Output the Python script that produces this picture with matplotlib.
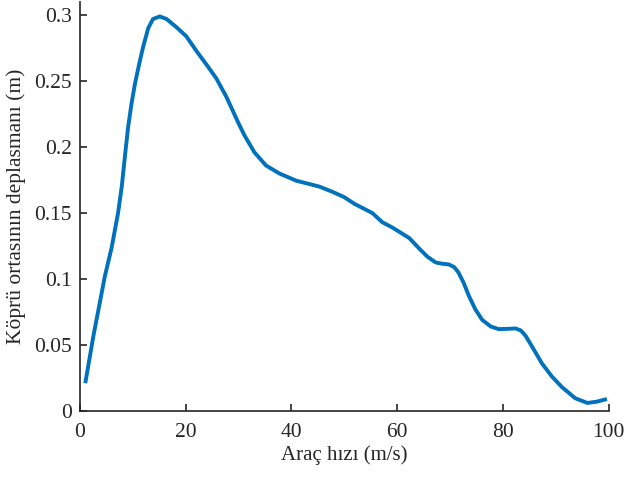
import matplotlib
matplotlib.use("Agg")
import matplotlib.pyplot as plt
import numpy as np

plt.rcParams['font.family'] = ['Liberation Serif', 'DejaVu Serif']

# hız (m/s) ve köprü ortası deplasmanı (m)
hiz = [1, 2.5, 4.7, 6.0, 7.2, 7.9, 8.5, 9.1, 9.75, 10.4, 11.2, 11.95, 12.9,
       13.8, 15.1, 16.4, 18.2, 20.1, 22.0, 24.2, 25.8, 27.7, 30, 31.1, 33,
       35.2, 37.7, 40.9, 45.3, 47.8, 50, 51.9, 55.3, 57.2, 59.1, 62.3, 64.2,
       65.7, 67.3, 68.6, 69.8, 70.8, 71.6, 72.6, 73.6, 74.8, 76.1, 77.7,
       79.2, 81.0, 82.4, 83.4, 84.3, 85.5, 87.4, 89.3, 91.2, 93.7, 96, 97.8,
       99.7]
deplasman = [0.021, 0.056, 0.102, 0.124, 0.150, 0.170, 0.193, 0.215, 0.233,
             0.248, 0.263, 0.276, 0.290, 0.297, 0.299, 0.297, 0.291, 0.284,
             0.273, 0.261, 0.252, 0.238, 0.218, 0.209, 0.196, 0.186, 0.180,
             0.1745, 0.170, 0.166, 0.162, 0.157, 0.150, 0.143, 0.139, 0.131,
             0.123, 0.117, 0.1125, 0.1115, 0.111, 0.109, 0.105, 0.097, 0.087,
             0.077, 0.069, 0.064, 0.062, 0.0622, 0.0625, 0.061, 0.057, 0.049,
             0.036, 0.026, 0.018, 0.0096, 0.006, 0.007, 0.009]

fig = plt.figure(figsize=(6.25, 4.8), dpi=100)
ax = fig.add_axes([0.128, 0.144, 0.8456, 0.852])

ax.plot(hiz, deplasman, color="#0072BD", linewidth=2.8,
        solid_capstyle="butt", solid_joinstyle="round")

ax.set_xlim(0, 100)
ax.set_ylim(0, 0.31)
ax.set_xticks([0, 20, 40, 60, 80, 100])
ax.set_yticks([0, 0.05, 0.1, 0.15, 0.2, 0.25, 0.3])
ax.set_yticklabels(["0", "0.05", "0.1", "0.15", "0.2", "0.25", "0.3"])

ax.spines['top'].set_visible(False)
ax.spines['right'].set_visible(False)
for s in ['left', 'bottom']:
    ax.spines[s].set_color("#262626")
    ax.spines[s].set_linewidth(1.2)
ax.tick_params(direction="in", length=5, width=1.2, colors="#262626",
               labelsize=15.5)
ax.tick_params(axis="y", pad=6)
ax.tick_params(axis="x", pad=9)

ax.set_xlabel("Araç hızı (m/s)", fontsize=15, color="#262626", labelpad=2)
ax.set_ylabel("Köprü ortasının deplasmanı (m)", fontsize=15.5,
              color="#262626", labelpad=6)

fig.savefig("out.png", dpi=100)
